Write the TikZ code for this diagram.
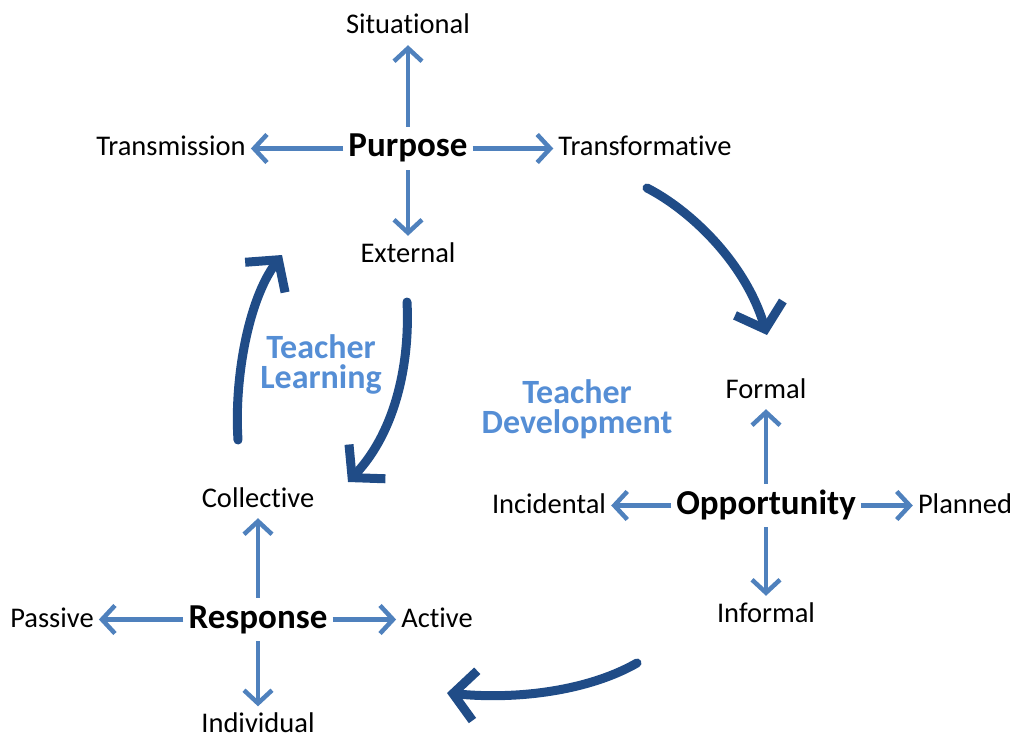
\documentclass[tikz,border=0pt]{standalone}
\usepackage{fontspec}
\setmainfont{Carlito}[Ligatures=NoCommon]
\usetikzlibrary{arrows.meta}
\definecolor{spokeblue}{RGB}{79,129,189}
\definecolor{loopblue}{RGB}{32,76,135}
\definecolor{themeblue}{RGB}{85,142,213}

\begin{document}
\begin{tikzpicture}[
	x=1pt, y=-1pt,
	hub/.style={inner sep=0pt, text height=25pt, text depth=8pt, font=\fontsize{35}{40}\selectfont\bfseries},
	leaf/.style={inner sep=0pt, text height=21pt, text depth=6pt, font=\fontsize{28.5}{32}\selectfont},
	theme/.style={align=center, text=themeblue, font=\fontsize{34}{30}\selectfont\bfseries},
	spoke/.style={draw=spokeblue, line width=4.5pt, shorten <=5pt, shorten >=5pt, -{Straight Barb[length=13pt,width=28pt]}},
	loopline/.style={draw=loopblue, line width=9pt, line cap=round, -{Straight Barb[length=22pt,width=50pt]}}
	]
	\useasboundingbox (0,0) rectangle (1014,738);

	% Purpose
	\node[hub] (purpose) at (408,148.5) {Purpose};
	\node[leaf] (situational) at (408,26.5) {Situat\kern0pt ional};
	\node[leaf] (external) at (408,254.5) {External};
	\node[leaf] (transmission) at (171,148.5) {Transmission};
	\node[leaf] (transformative) at (645,148.5) {Transformat\kern0pt ive};
	\draw[spoke] (purpose) -- (situational);
	\draw[spoke] (purpose) -- (external);
	\draw[spoke] (purpose) -- (transmission);
	\draw[spoke] (purpose) -- (transformative);

	% Opportunity
	\node[hub] (opportunity) at (766,505.5) {Opportunity};
	\node[leaf] (formal) at (766,390.5) {Formal};
	\node[leaf] (informal) at (766,614.5) {Informal};
	\node[leaf] (incidental) at (549,505.5) {Incidental};
	\node[leaf] (planned) at (965,505.5) {Planned};
	\draw[spoke] (opportunity) -- (formal);
	\draw[spoke] (opportunity) -- (informal);
	\draw[spoke] (opportunity) -- (incidental);
	\draw[spoke] (opportunity) -- (planned);

	% Response
	\node[hub] (response) at (258,619.5) {Response};
	\node[leaf] (collective) at (258,499.5) {Collect\kern0pt ive};
	\node[leaf] (individual) at (258,725) {Individual};
	\node[leaf] (passive) at (52,619.5) {Passive};
	\node[leaf] (active) at (437,619.5) {Active};
	\draw[spoke] (response) -- (collective);
	\draw[spoke] (response) -- (individual);
	\draw[spoke] (response) -- (passive);
	\draw[spoke] (response) -- (active);

	\node[theme] (learning) at (321,364) {Teacher\\Learning};
	\node[theme] (development) at (577,409) {Teacher\\Development};

	% big arrows
	\coordinate (tr-start) at (647,188);
	\coordinate (tr-end) at (767,335);
	\coordinate (bot-start) at (637,663);
	\coordinate (bot-end) at (447,693);
	\coordinate (up-start) at (238,440);
	\coordinate (up-end) at (282,255);
	\coordinate (down-start) at (407,302);
	\coordinate (down-end) at (348,482);
	\draw[loopline] (tr-start) .. controls (690,210) and (745,262) .. (tr-end);
	\draw[loopline] (bot-start) .. controls (590,690) and (520,700) .. (bot-end);
	\draw[loopline] (up-start) .. controls (234,380) and (248,300) .. (up-end);
	\draw[loopline] (down-start) .. controls (410,360) and (397,430) .. (down-end);
\end{tikzpicture}
\end{document}
